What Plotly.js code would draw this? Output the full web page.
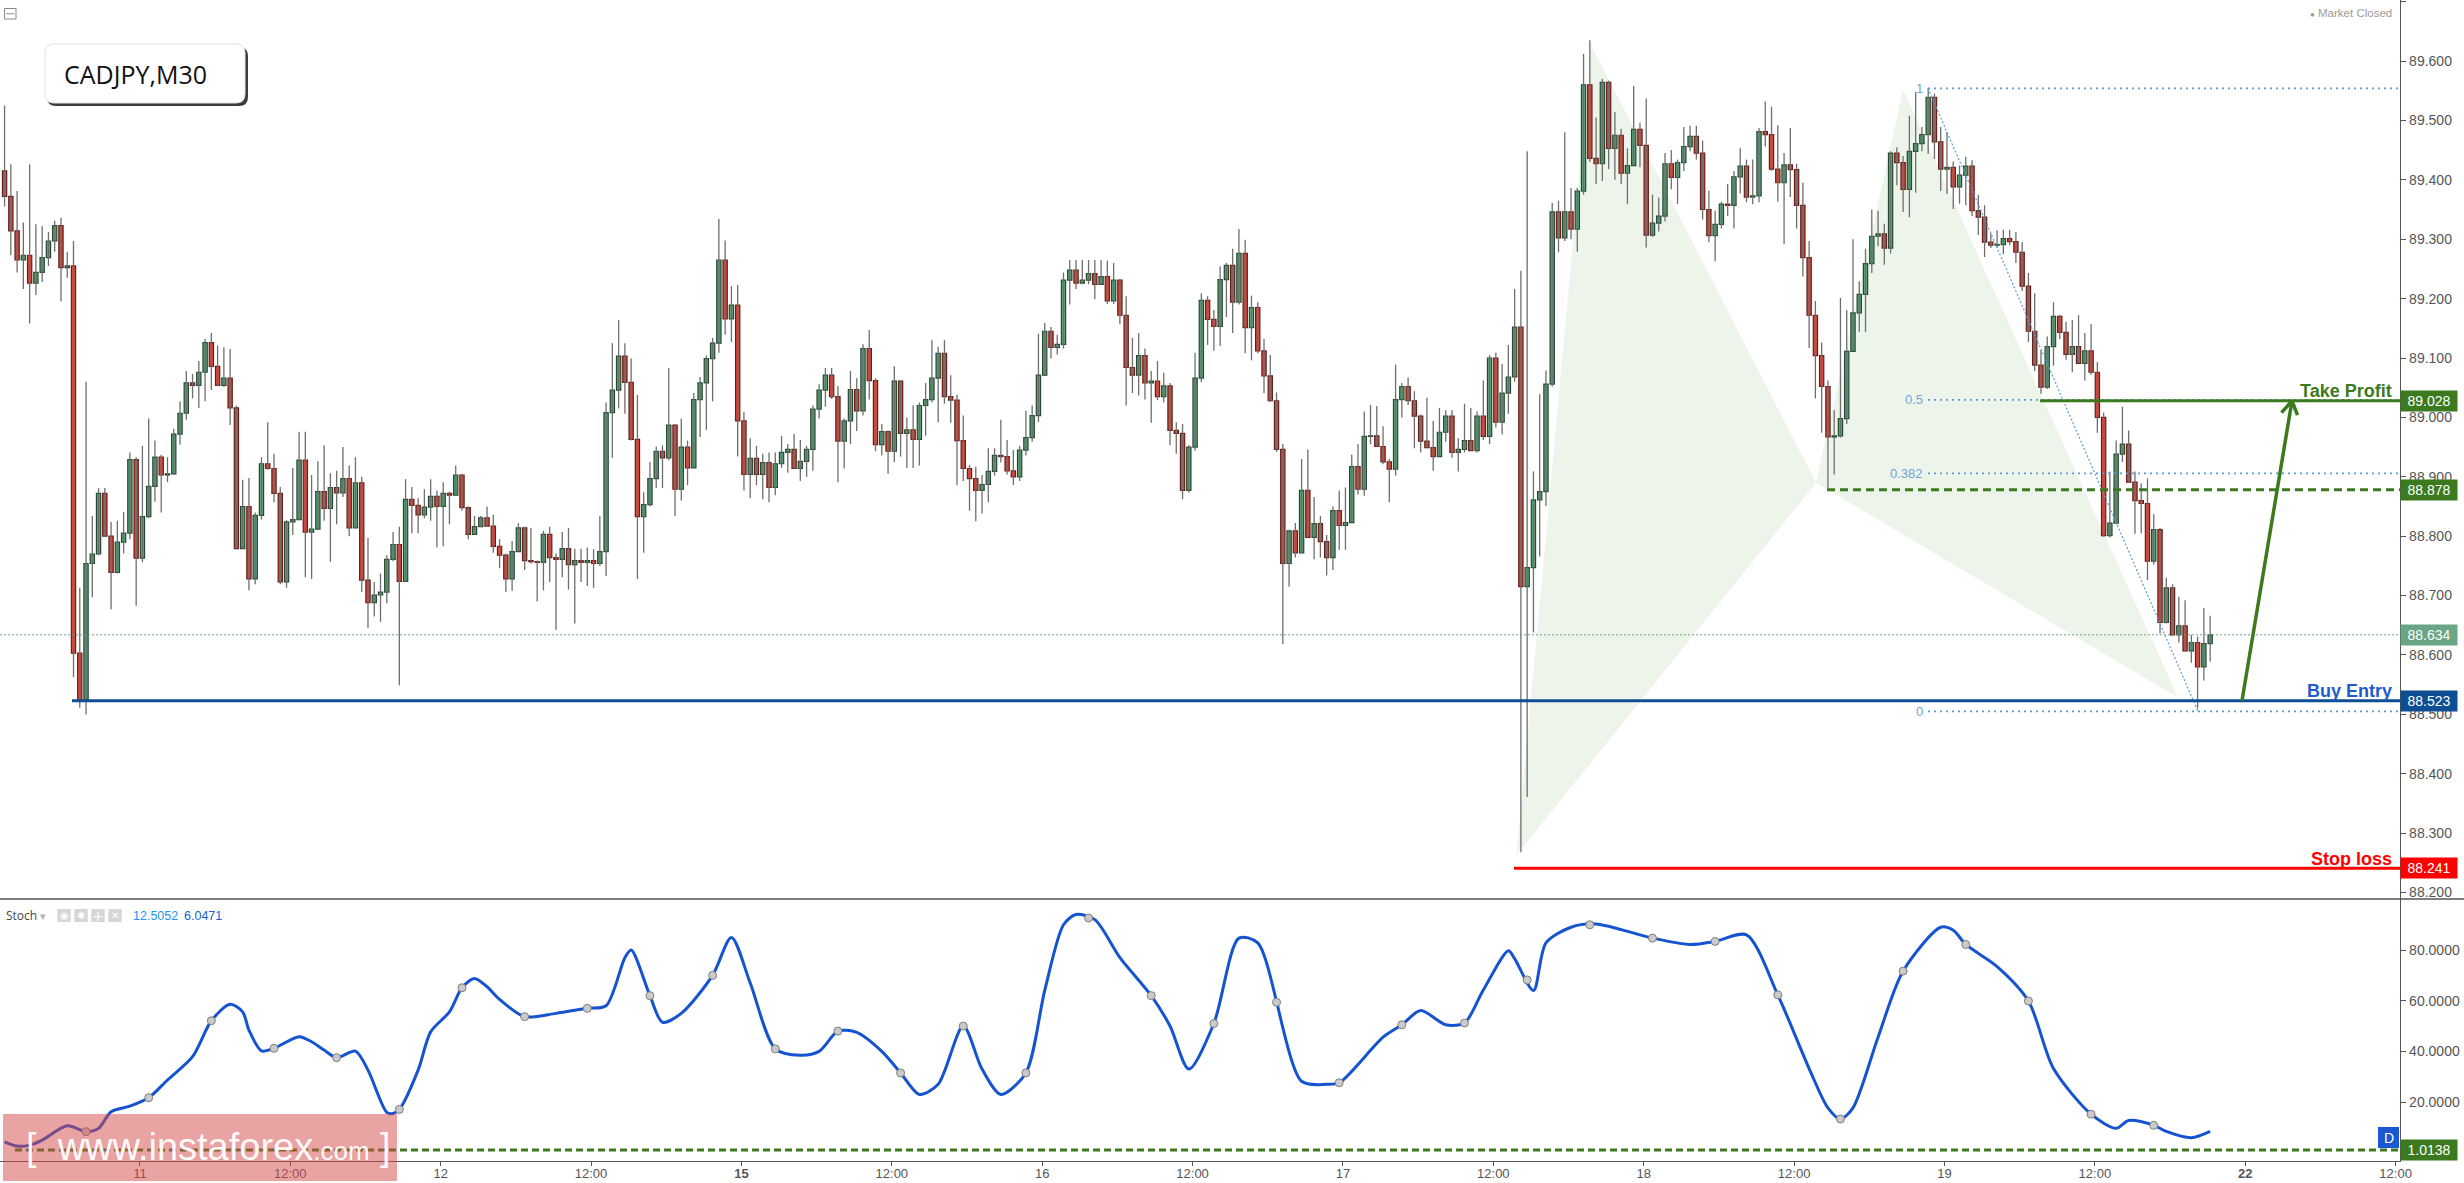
<!DOCTYPE html>
<html><head><meta charset="utf-8">
<script src="https://cdn.plot.ly/plotly-3.0.1.min.js"></script>
<style>html,body{margin:0;padding:0;background:#fff;overflow:hidden}#chart{width:2464px;height:1183px}</style>
</head><body><div id="chart"></div>
<script>
// ---------- DATA (CADJPY M30, bar index 0..352) ----------
const openP = [
89.415,89.372,89.314,89.265,89.273,89.226,89.244,89.269,89.297,89.323,
89.252,89.255,88.603,88.525,88.754,88.770,88.872,88.800,88.739,88.790,
88.805,88.929,88.763,88.833,88.884,88.933,88.903,88.905,88.972,89.007,
89.058,89.054,89.076,89.126,89.086,89.054,89.066,89.016,88.779,88.850,
88.728,88.835,88.922,88.914,88.872,88.723,88.824,88.828,88.928,88.807,
88.812,88.875,88.847,88.882,88.873,88.897,88.814,88.890,88.726,88.688,
88.701,88.706,88.761,88.786,88.724,88.862,88.852,88.836,88.849,88.867,
88.850,88.872,88.869,88.903,88.848,88.803,88.816,88.831,88.817,88.783,
88.768,88.728,88.774,88.814,88.759,88.757,88.756,88.803,88.764,88.761,
88.779,88.752,88.759,88.756,88.759,88.754,88.774,89.008,89.046,89.103,
89.059,88.963,88.833,88.853,88.897,88.943,88.932,88.987,88.879,88.950,
88.915,89.030,89.058,89.099,89.125,89.265,89.166,89.189,88.994,88.904,
88.931,88.904,88.924,88.882,88.922,88.941,88.946,88.914,88.926,88.946,
89.014,89.046,89.071,89.035,88.960,88.994,89.047,89.011,89.116,89.062,
88.954,88.976,88.943,89.061,88.973,88.979,88.963,89.020,89.030,89.066,
89.108,89.035,89.029,88.961,88.914,88.897,88.877,88.887,88.909,88.936,
88.934,88.910,88.900,88.945,88.966,89.003,89.071,89.145,89.118,89.123,
89.231,89.248,89.226,89.231,89.242,89.224,89.237,89.196,89.231,89.172,
89.084,89.071,89.104,89.058,89.061,89.035,89.053,88.978,88.973,88.877,
88.950,89.066,89.197,89.165,89.153,89.232,89.256,89.194,89.276,89.151,
89.185,89.112,89.070,89.028,88.946,88.754,88.809,88.772,88.877,88.798,
88.821,88.791,88.764,88.843,88.818,88.823,88.917,88.879,88.968,88.969,
88.951,88.925,88.913,89.030,89.052,89.028,89.002,88.960,88.949,88.934,
88.975,89.002,88.941,88.946,88.961,88.944,89.002,88.968,89.100,88.992,
89.041,89.068,89.152,88.715,88.747,88.861,88.875,89.056,89.346,89.302,
89.346,89.317,89.381,89.560,89.436,89.427,89.564,89.453,89.475,89.411,
89.424,89.485,89.458,89.307,89.327,89.339,89.427,89.404,89.429,89.456,
89.473,89.445,89.350,89.306,89.325,89.359,89.357,89.405,89.423,89.371,
89.373,89.481,89.476,89.418,89.395,89.425,89.417,89.357,89.269,89.172,
89.104,89.052,88.967,88.969,88.998,89.111,89.176,89.207,89.259,89.305,
89.309,89.285,89.445,89.429,89.384,89.448,89.461,89.476,89.539,89.464,
89.418,89.421,89.388,89.408,89.423,89.348,89.337,89.295,89.290,89.291,
89.301,89.296,89.278,89.221,89.145,89.088,89.051,89.119,89.170,89.143,
89.106,89.119,89.091,89.112,89.076,89.000,88.801,88.822,88.938,88.955,
88.891,88.860,88.855,88.758,88.811,88.655,88.713,88.634,88.649,88.607,
88.621,88.580,88.619];
const highP = [
89.525,89.426,89.381,89.328,89.426,89.325,89.322,89.312,89.331,89.336,
89.279,89.297,88.713,89.060,88.834,88.881,88.881,88.824,88.826,88.841,
88.941,88.933,88.952,88.998,88.961,88.937,88.933,88.981,89.027,89.078,
89.073,89.095,89.132,89.142,89.121,89.118,89.115,89.020,88.895,88.898,
88.840,88.933,88.992,88.939,88.883,88.827,88.915,88.976,88.976,88.903,
88.926,88.953,88.906,88.910,88.950,88.919,88.933,88.900,88.797,88.723,
88.737,88.768,88.807,88.816,88.896,88.883,88.864,88.879,88.896,88.877,
88.891,88.875,88.919,88.905,88.850,88.834,88.834,88.850,88.836,88.795,
88.771,88.792,88.822,88.816,88.814,88.759,88.809,88.816,88.771,88.807,
88.814,88.779,88.779,88.781,88.778,88.834,89.025,89.125,89.164,89.125,
89.099,89.038,88.874,88.925,88.951,88.953,89.083,88.989,88.998,88.961,
89.041,89.068,89.104,89.134,89.334,89.298,89.221,89.223,89.009,88.965,
88.952,88.939,88.941,88.941,88.969,88.955,88.972,88.962,88.952,89.020,
89.056,89.083,89.083,89.053,88.998,89.078,89.066,89.123,89.147,89.066,
88.989,88.978,89.086,89.063,89.000,89.020,89.025,89.058,89.130,89.119,
89.130,89.071,89.038,89.003,88.920,88.917,88.903,88.948,88.948,88.996,
88.962,88.945,88.952,89.011,89.020,89.141,89.159,89.152,89.139,89.244,
89.265,89.265,89.265,89.265,89.265,89.265,89.264,89.260,89.233,89.204,
89.134,89.142,89.116,89.078,89.095,89.075,89.058,88.992,88.989,88.953,
89.109,89.209,89.204,89.181,89.254,89.260,89.284,89.317,89.299,89.205,
89.194,89.132,89.105,89.042,88.955,88.811,88.822,88.930,88.946,88.866,
88.834,88.802,88.850,88.877,88.882,88.937,88.955,89.010,89.021,89.019,
88.985,88.930,89.089,89.058,89.067,89.044,89.005,89.033,88.994,89.016,
89.012,89.012,88.965,89.023,89.016,89.010,89.062,89.105,89.109,89.090,
89.122,89.216,89.247,89.448,88.909,89.039,89.079,89.361,89.365,89.480,
89.386,89.386,89.612,89.635,89.505,89.570,89.567,89.514,89.486,89.453,
89.558,89.496,89.537,89.375,89.370,89.445,89.450,89.434,89.489,89.491,
89.491,89.466,89.382,89.348,89.363,89.393,89.415,89.453,89.434,89.434,
89.487,89.532,89.523,89.492,89.445,89.487,89.427,89.395,89.297,89.196,
89.126,89.062,89.012,89.201,89.181,89.300,89.229,89.284,89.350,89.348,
89.326,89.448,89.455,89.440,89.508,89.548,89.489,89.554,89.545,89.489,
89.480,89.431,89.424,89.439,89.433,89.375,89.357,89.310,89.315,89.316,
89.316,89.312,89.295,89.243,89.209,89.113,89.136,89.194,89.173,89.161,
89.164,89.172,89.142,89.157,89.093,89.008,88.909,88.961,89.018,88.978,
88.909,88.889,88.897,88.837,88.814,88.730,88.719,88.698,88.692,88.634,
88.631,88.679,88.666];
const lowP = [
89.355,89.273,89.244,89.216,89.158,89.206,89.228,89.255,89.279,89.195,
89.235,88.563,88.511,88.500,88.697,88.768,88.799,88.677,88.737,88.771,
88.795,88.683,88.756,88.830,88.858,88.840,88.891,88.903,88.954,88.996,
89.032,89.016,89.027,89.046,89.053,89.051,88.987,88.779,88.779,88.709,
88.719,88.828,88.912,88.857,88.719,88.713,88.802,88.827,88.731,88.728,
88.812,88.826,88.757,88.820,88.866,88.800,88.814,88.706,88.645,88.665,
88.656,88.687,88.758,88.549,88.723,88.805,88.805,88.830,88.826,88.781,
88.783,88.820,88.869,88.843,88.795,88.803,88.816,88.816,88.772,88.746,
88.706,88.708,88.774,88.743,88.754,88.690,88.709,88.723,88.642,88.731,
88.710,88.653,88.723,88.716,88.713,88.750,88.733,88.932,89.015,89.006,
88.961,88.728,88.772,88.850,88.881,88.881,88.928,88.834,88.860,88.886,
88.915,88.967,88.979,89.027,89.109,89.139,89.127,88.934,88.877,88.864,
88.886,88.862,88.857,88.869,88.915,88.907,88.914,88.893,88.900,88.910,
88.998,89.018,89.031,88.891,88.914,88.955,88.977,89.003,89.030,88.943,
88.936,88.905,88.925,88.934,88.915,88.915,88.919,88.969,89.025,88.992,
89.023,88.991,88.886,88.893,88.843,88.825,88.838,88.857,88.902,88.924,
88.904,88.886,88.893,88.936,88.959,88.992,89.071,89.099,89.106,89.116,
89.190,89.216,89.224,89.224,89.199,89.224,89.191,89.191,89.157,89.020,
89.041,89.037,89.030,88.991,89.029,89.025,88.953,88.939,88.862,88.873,
88.944,89.059,89.122,89.112,89.120,89.169,89.142,89.190,89.108,89.096,
89.108,89.041,89.026,88.942,88.618,88.715,88.764,88.772,88.798,88.761,
88.764,88.734,88.743,88.777,88.777,88.823,88.870,88.868,88.955,88.951,
88.921,88.857,88.902,89.000,89.021,88.948,88.941,88.948,88.910,88.934,
88.959,88.932,88.909,88.941,88.944,88.941,88.962,88.955,88.983,88.971,
89.006,89.060,88.268,88.361,88.638,88.766,88.851,89.052,89.278,89.297,
89.300,89.279,89.375,89.430,89.393,89.398,89.418,89.400,89.393,89.359,
89.424,89.421,89.286,89.304,89.313,89.330,89.384,89.359,89.415,89.448,
89.434,89.333,89.295,89.263,89.318,89.339,89.318,89.377,89.362,89.359,
89.362,89.456,89.415,89.363,89.292,89.371,89.318,89.237,89.117,89.032,
88.974,88.880,88.904,88.966,88.989,89.111,89.144,89.144,89.243,89.288,
89.257,89.276,89.391,89.346,89.337,89.378,89.448,89.444,89.435,89.381,
89.376,89.351,89.360,89.357,89.339,89.307,89.270,89.285,89.286,89.275,
89.290,89.260,89.213,89.127,89.078,89.040,89.048,89.087,89.132,89.097,
89.076,89.091,89.062,89.072,88.974,88.799,88.798,88.820,88.925,88.891,
88.804,88.805,88.726,88.752,88.636,88.653,88.632,88.621,88.606,88.587,
88.510,88.557,88.589];
const closeP = [
89.372,89.314,89.265,89.273,89.226,89.244,89.269,89.297,89.323,89.252,
89.255,88.603,88.525,88.754,88.770,88.872,88.800,88.739,88.790,88.805,
88.929,88.763,88.833,88.884,88.933,88.903,88.905,88.972,89.007,89.058,
89.054,89.076,89.126,89.086,89.054,89.066,89.016,88.779,88.850,88.728,
88.835,88.922,88.914,88.872,88.723,88.824,88.828,88.928,88.807,88.812,
88.875,88.847,88.882,88.873,88.897,88.814,88.890,88.726,88.688,88.701,
88.706,88.761,88.786,88.724,88.862,88.852,88.836,88.849,88.867,88.850,
88.872,88.869,88.903,88.848,88.803,88.816,88.831,88.817,88.783,88.768,
88.728,88.774,88.814,88.759,88.757,88.756,88.803,88.764,88.761,88.779,
88.752,88.759,88.756,88.759,88.754,88.774,89.008,89.046,89.103,89.059,
88.963,88.833,88.853,88.897,88.943,88.932,88.987,88.879,88.950,88.915,
89.030,89.058,89.099,89.125,89.265,89.166,89.189,88.994,88.904,88.931,
88.904,88.924,88.882,88.922,88.941,88.946,88.914,88.926,88.946,89.014,
89.046,89.071,89.035,88.960,88.994,89.047,89.011,89.116,89.062,88.954,
88.976,88.943,89.061,88.973,88.979,88.963,89.020,89.030,89.066,89.108,
89.035,89.029,88.961,88.914,88.897,88.877,88.887,88.909,88.936,88.934,
88.910,88.900,88.945,88.966,89.003,89.071,89.145,89.118,89.123,89.231,
89.248,89.226,89.231,89.242,89.224,89.237,89.196,89.231,89.172,89.084,
89.071,89.104,89.058,89.061,89.035,89.053,88.978,88.973,88.877,88.950,
89.066,89.197,89.165,89.153,89.232,89.256,89.194,89.276,89.151,89.185,
89.112,89.070,89.028,88.946,88.754,88.809,88.772,88.877,88.798,88.821,
88.791,88.764,88.843,88.818,88.823,88.917,88.879,88.968,88.969,88.951,
88.925,88.913,89.030,89.052,89.028,89.002,88.960,88.949,88.934,88.975,
89.002,88.941,88.946,88.961,88.944,89.002,88.968,89.100,88.992,89.041,
89.068,89.152,88.715,88.747,88.861,88.875,89.056,89.346,89.302,89.346,
89.317,89.381,89.560,89.436,89.427,89.564,89.453,89.475,89.411,89.424,
89.485,89.458,89.307,89.327,89.339,89.427,89.404,89.429,89.456,89.473,
89.445,89.350,89.306,89.325,89.359,89.357,89.405,89.423,89.371,89.373,
89.481,89.476,89.418,89.395,89.425,89.417,89.357,89.269,89.172,89.104,
89.052,88.967,88.969,88.998,89.111,89.176,89.207,89.259,89.305,89.309,
89.285,89.445,89.429,89.384,89.448,89.461,89.476,89.539,89.464,89.418,
89.421,89.388,89.408,89.423,89.348,89.337,89.295,89.290,89.291,89.301,
89.296,89.278,89.221,89.145,89.088,89.051,89.119,89.170,89.143,89.106,
89.119,89.091,89.112,89.076,89.000,88.801,88.822,88.938,88.955,88.891,
88.860,88.855,88.758,88.811,88.655,88.713,88.634,88.649,88.607,88.621,
88.580,88.619,88.634];

// Stochastic main line (bar index, value)
const stochIdx = [0,2,4,6,10,13,15,17,20,23,26,30,33,36,38,39,41,43,47,49,51,53,56,58,61,62,63,66,68,71,73,75,77,79,
83,88,93,96,99,100,103,105,108,113,116,119,123,127,130,133,136,140,143,146,149,153,156,159,163,166,169,171,174,178,183,186,
189,193,197,200,207,211,213,220,223,226,230,233,236,240,241,244,246,250,254,263,269,273,278,283,288,291,293,295,299,303,309,311,313,318,323,327,333,337,339,343,345,349,352];
const stochVal = [4.3,2.6,3.0,5.0,10.6,8.3,9.6,16.2,18.4,21.7,28.7,37.9,52.1,58.6,55.6,48.4,40.2,41.2,45.8,43.8,40.5,37.5,40.1,32.6,15.9,15.5,17.1,32.6,47.7,55.6,65.1,68.8,65.5,60.5,
53.7,55,57,58,77,80,62,51.5,55,70,85,67,41,38.5,40,48,47.5,40,31.5,23,27,50,33,23,31.5,64,90,94,92,77,62,50,
33,51,84.7,82.8,28.2,27,27.6,45.6,50.5,56.1,50.5,51.2,64.2,79.7,76.6,64,82.8,89,90.3,84.7,82.2,83.4,86,62.3,33.2,17.7,13.3,17.7,45.6,71.7,89,87.8,82.2,73.5,59.9,33.2,15.2,9.6,12.7,10.8,8.4,5.9,8.4];
const stochMarkIdx = [13,23,33,43,53,63,73,83,93,103,113,123,133,143,153,163,173,183,193,203,213,223,233,243,253,263,273,283,293,303,313,323,333,343];

const tickLabels = ["11","12:00","12","12:00","<b>15</b>","12:00","16","12:00","17","12:00","18","12:00","19","12:00","<b>22</b>","12:00"];

// trade levels
const buyEntry = 88.523, takeProfit = 89.028, level2 = 88.878, stopLoss = 88.241, lastPrice = 88.634, stochLevel = 1.0138;
const fibLevels = [1, 0.5, 0.382, 0];
const fibHigh = 89.554, fibLow = 88.505;
// harmonic pattern points X A B C D (bar index, price)
const patIdx = [241.3, 253.2, 289.1, 303.0, 346.9];
const patPrice = [88.263, 89.627, 88.890, 89.551, 88.528];

// ---------- GEOMETRY ----------
const PW = 2400, PH = 1161;
const X0 = -0.73, X1 = 382.3;
const pxX = p => p / PW, pxY = p => 1 - p / PH;
const idxAt = p => X0 + (X1 - X0) * p / PW;
const mainDom = [262 / PH, 1];

const n = closeP.length;
const idx = closeP.map((_, i) => i);
const up = closeP.map((c, i) => c >= openP[i]);

// wicks
const wx = [], wy = [];
for (let i = 0; i < n; i++) { wx.push(i, i, null); wy.push(lowP[i], highP[i], null); }

const traces = [
  {type:'scatter', mode:'lines', x:wx, y:wy, line:{color:'#6e6e6e', width:1.3}, hoverinfo:'skip', xaxis:'x', yaxis:'y'},
  {type:'bar', x:idx, base:idx.map(i => Math.min(openP[i], closeP[i])),
   y:idx.map(i => Math.max(Math.abs(closeP[i] - openP[i]), 0.0008)), width:0.68,
   marker:{color:up.map(u => u ? '#5f9f7a' : '#d5473a'), line:{color:up.map(u => u ? '#1f4d2f' : '#6d1d15'), width:1.2}},
   hoverinfo:'skip', xaxis:'x', yaxis:'y'},
  {type:'scatter', mode:'lines', x:stochIdx, y:stochVal, line:{color:'#1553d1', width:3, shape:'spline', smoothing:0.8}, hoverinfo:'skip', xaxis:'x', yaxis:'y2'},
  {type:'scatter', mode:'markers', x:stochMarkIdx,
   y:stochMarkIdx.map(m => { for (let k = 1; k < stochIdx.length; k++) { if (stochIdx[k] >= m) { const t = (m - stochIdx[k-1]) / (stochIdx[k] - stochIdx[k-1]); return stochVal[k-1] + t * (stochVal[k] - stochVal[k-1]); } } return stochVal[stochVal.length-1]; }),
   marker:{size:8, color:'#cacaca', line:{color:'#7d7d7d', width:1}}, hoverinfo:'skip', xaxis:'x', yaxis:'y2'}
];

// ---------- SHAPES ----------
const shapes = [];
const green = '#3b7a1e';
const tri = (a, b, c) => `M ${patIdx[a]} ${patPrice[a]} L ${patIdx[b]} ${patPrice[b]} L ${patIdx[c]} ${patPrice[c]} Z`;
shapes.push({type:'path', xref:'x', yref:'y', path:tri(0,1,2), fillcolor:'#edf5ea', line:{width:0}, layer:'below'});
shapes.push({type:'path', xref:'x', yref:'y', path:tri(2,3,4), fillcolor:'#edf5ea', line:{width:0}, layer:'below'});
shapes.push({type:'line', xref:'x', yref:'y', x0:X0, x1:X1, y0:lastPrice, y1:lastPrice, line:{color:'#6aa585', width:1, dash:'2px,2px'}});
const fibStart = idxAt(1928);
fibLevels.forEach(f => {
  const v = fibLow + f * (fibHigh - fibLow);
  shapes.push({type:'line', xref:'x', yref:'y', x0:fibStart, x1:X1, y0:v, y1:v, line:{color:'#5b9bd5', width:1.6, dash:'2px,4px'}});
});
shapes.push({type:'line', xref:'x', yref:'y', x0:fibStart, x1:idxAt(2198), y0:fibHigh, y1:fibLow, line:{color:'#5b9bd5', width:1.2, dash:'2px,2px'}});
shapes.push({type:'line', xref:'x', yref:'y', x0:idxAt(72), x1:X1, y0:buyEntry, y1:buyEntry, line:{color:'#0e4e92', width:3}});
shapes.push({type:'line', xref:'x', yref:'y', x0:idxAt(2040), x1:X1, y0:takeProfit, y1:takeProfit, line:{color:green, width:3}});
shapes.push({type:'line', xref:'x', yref:'y', x0:idxAt(1827), x1:X1, y0:level2, y1:level2, line:{color:green, width:3, dash:'8px,5px'}});
shapes.push({type:'line', xref:'x', yref:'y', x0:idxAt(1514), x1:X1, y0:stopLoss, y1:stopLoss, line:{color:'#ff0000', width:3}});
const aS = [idxAt(2242), buyEntry], aT = [idxAt(2292), takeProfit];
shapes.push({type:'line', xref:'x', yref:'y', x0:aS[0], y0:aS[1], x1:aT[0], y1:aT[1], line:{color:green, width:3.5}});
shapes.push({type:'line', xref:'x', yref:'y', x0:aT[0], y0:aT[1], x1:idxAt(2281.5), y1:89.008, line:{color:green, width:3.5}});
shapes.push({type:'line', xref:'x', yref:'y', x0:aT[0], y0:aT[1], x1:idxAt(2297.5), y1:89.004, line:{color:green, width:3.5}});
shapes.push({type:'line', xref:'x', yref:'y2', x0:idxAt(15), x1:X1, y0:stochLevel, y1:stochLevel, line:{color:green, width:3, dash:'7px,4px'}});
shapes.push({type:'line', xref:'paper', yref:'paper', x0:0, x1:2464/PW, y0:pxY(899), y1:pxY(899), line:{color:'#555', width:1.3}});
function rr(x0, y0, x1, y1, r) {
  const X = pxX, Y = pxY;
  return `M ${X(x0+r)} ${Y(y0)} L ${X(x1-r)} ${Y(y0)} Q ${X(x1)} ${Y(y0)} ${X(x1)} ${Y(y0+r)} L ${X(x1)} ${Y(y1-r)} Q ${X(x1)} ${Y(y1)} ${X(x1-r)} ${Y(y1)} L ${X(x0+r)} ${Y(y1)} Q ${X(x0)} ${Y(y1)} ${X(x0)} ${Y(y1-r)} L ${X(x0)} ${Y(y0+r)} Q ${X(x0)} ${Y(y0)} ${X(x0+r)} ${Y(y0)} Z`;
}
shapes.push({type:'path', xref:'paper', yref:'paper', path:rr(47,47,248,106,9), fillcolor:'#3c3c3c', line:{width:0}});
shapes.push({type:'path', xref:'paper', yref:'paper', path:rr(45,44,245,103,9), fillcolor:'#ffffff', line:{color:'#e2e2e2', width:1}});
shapes.push({type:'rect', xref:'paper', yref:'paper', x0:pxX(4.5), x1:pxX(16), y0:pxY(8.5), y1:pxY(19), line:{color:'#8a8a8a', width:1}});
shapes.push({type:'line', xref:'paper', yref:'paper', x0:pxX(6), x1:pxX(14.5), y0:pxY(13.8), y1:pxY(13.8), line:{color:'#8a8a8a', width:1}});
[57.3, 74.3, 91.3, 108.3].forEach(x => shapes.push({type:'rect', xref:'paper', yref:'paper', x0:pxX(x), x1:pxX(x+13.4), y0:pxY(909), y1:pxY(922), fillcolor:'#d6d6d6', line:{width:0}}));
shapes.push({type:'rect', xref:'paper', yref:'paper', x0:pxX(2378), x1:pxX(2399), y0:pxY(1127), y1:pxY(1148), fillcolor:'#1a57d2', line:{width:0}});
shapes.push({type:'rect', xref:'paper', yref:'paper', x0:pxX(3), x1:pxX(397), y0:pxY(1114), y1:pxY(1181), fillcolor:'rgba(214,72,72,0.5)', line:{width:0}, layer:'above'});

// ---------- ANNOTATIONS ----------
const F = 'Liberation Sans, Arial, sans-serif';
const ann = [];
ann.push({xref:'paper', yref:'paper', x:pxX(62), y:pxY(74), xanchor:'left', yanchor:'middle', text:'CADJPY,M30', showarrow:false, font:{family:'Open Sans, sans-serif', size:25, color:'#111'}});
ann.push({xref:'paper', yref:'paper', x:pxX(2394), y:pxY(13), xanchor:'right', yanchor:'middle', text:'<span style="font-size:8px">●</span> Market Closed', showarrow:false, font:{family:F, size:11.5, color:'#9a9a9a'}});
const lab = (txt, y, col) => ({xref:'paper', yref:'y', x:pxX(2394), y:y, xanchor:'right', yanchor:'middle', yshift:9.5, text:'<b>'+txt+'</b>', showarrow:false, font:{family:F, size:18, color:col}});
ann.push(lab('Take Profit', takeProfit, green));
ann.push(lab('Buy Entry', buyEntry, '#1f5bcc'));
ann.push(lab('Stop loss', stopLoss, '#ff0000'));
const box = (v, yref, bg, digits) => ({xref:'paper', yref:yref, x:1, y:v, xanchor:'left', yanchor:'middle', width:56, height:20, align:'center', bgcolor:bg, borderpad:0, text:v.toFixed(digits), showarrow:false, font:{family:F, size:14, color:'#fff'}});
ann.push(box(takeProfit, 'y', green, 3));
ann.push(box(level2, 'y', green, 3));
ann.push(box(lastPrice, 'y', '#6aa585', 3));
ann.push(box(buyEntry, 'y', '#0e4e92', 3));
ann.push(box(stopLoss, 'y', '#ff0000', 3));
ann.push(box(stochLevel, 'y2', green, 4));
fibLevels.forEach(f => {
  const v = fibLow + f * (fibHigh - fibLow);
  ann.push({xref:'x', yref:'y', x:idxAt(1925), y:v, xanchor:'right', yanchor:'middle', text:String(f), showarrow:false, font:{family:F, size:13, color:'#6fa5dc'}});
});
const hy = pxY(915.5);
ann.push({xref:'paper', yref:'paper', x:pxX(4), y:hy, xanchor:'left', yanchor:'middle', text:'Stoch', showarrow:false, font:{family:'Open Sans, sans-serif', size:12, color:'#444'}});
ann.push({xref:'paper', yref:'paper', x:pxX(43), y:hy, xanchor:'center', yanchor:'middle', text:'▾', showarrow:false, font:{family:F, size:11, color:'#b0b0b0'}});
['◉','✱','+','✕'].forEach((g, k) => ann.push({xref:'paper', yref:'paper', x:pxX(64 + 17*k), y:hy, xanchor:'center', yanchor:'middle', text:g, showarrow:false, font:{family:'DejaVu Sans, sans-serif', size:k==2?14:10, color:'#ffffff'}}));
ann.push({xref:'paper', yref:'paper', x:pxX(131), y:hy, xanchor:'left', yanchor:'middle', text:'12.5052', showarrow:false, font:{family:F, size:12.5, color:'#2196f3'}});
ann.push({xref:'paper', yref:'paper', x:pxX(182), y:hy, xanchor:'left', yanchor:'middle', text:'6.0471', showarrow:false, font:{family:F, size:12.5, color:'#1a5fd0'}});
ann.push({xref:'paper', yref:'paper', x:pxX(2388.5), y:pxY(1137.5), xanchor:'center', yanchor:'middle', text:'D', showarrow:false, font:{family:F, size:14, color:'#fff'}});
ann.push({xref:'paper', yref:'paper', x:pxX(24), y:pxY(1147), xanchor:'left', yanchor:'middle', text:'[  www.instaforex<span style="font-size:26px">.com</span> ]', showarrow:false, font:{family:F, size:38, color:'rgba(255,255,255,0.95)'}});

const layout = {
  width:2464, height:1183, margin:{l:0, r:64, t:0, b:22, pad:0},
  paper_bgcolor:'#fff', plot_bgcolor:'#fff', showlegend:false, hovermode:false, bargap:0,
  font:{family:F, color:'#555'},
  xaxis:{domain:[0,1], range:[X0, X1], anchor:'y2', showgrid:false, zeroline:false,
    tickvals:tickLabels.map((_, k) => 21.6 + 24*k), ticktext:tickLabels, ticks:'outside', ticklen:4, tickcolor:'#555',
    ticklabelstandoff:-4,
    showline:true, linecolor:'#555', linewidth:1.3, tickfont:{family:F, size:13, color:'#555'}},
  yaxis:{domain:mainDom, range:[88.1892, 89.7027], side:'right', anchor:'x', showgrid:false, zeroline:false,
    tickvals:[88.2,88.3,88.4,88.5,88.6,88.7,88.8,88.9,89.0,89.1,89.2,89.3,89.4,89.5,89.6,89.7], tickformat:'.3f',
    ticks:'outside', ticklen:5, tickcolor:'#555', showline:true, linecolor:'#555', linewidth:1.3, tickfont:{family:F, size:14, color:'#555'}},
  yaxis2:{domain:[0, 262/PH], range:[-3.28, 100.15], side:'right', anchor:'x', showgrid:false, zeroline:false,
    tickvals:[20,40,60,80], tickformat:'.4f', ticks:'outside', ticklen:5, tickcolor:'#555', showline:true, linecolor:'#555', linewidth:1.3,
    tickfont:{family:F, size:14, color:'#555'}},
  shapes:shapes, annotations:ann
};
Plotly.newPlot('chart', traces, layout, {staticPlot:true, displayModeBar:false});
</script>
</body></html>
